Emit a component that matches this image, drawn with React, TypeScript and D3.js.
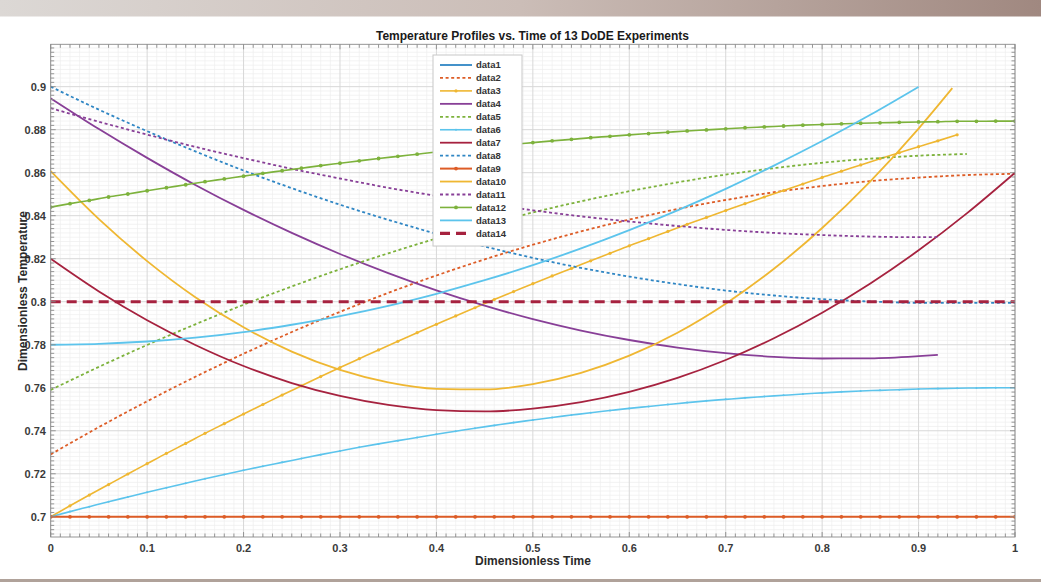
import React from 'react';
import * as d3 from 'd3';

const W = 1041;
const H = 582;

// ---- time grids ----
const time05 = [0, 0.05, 0.1, 0.15, 0.2, 0.25, 0.3, 0.35, 0.4, 0.45, 0.5, 0.55, 0.6, 0.65, 0.7, 0.75, 0.8, 0.85, 0.9, 0.95, 1];
const time02 = d3.range(51).map((i) => i / 50);
const timeTo092 = [0, 0.05, 0.1, 0.15, 0.2, 0.25, 0.3, 0.35, 0.4, 0.45, 0.5, 0.55, 0.6, 0.65, 0.7, 0.75, 0.8, 0.85, 0.9, 0.92];
const timeTo0935 = [0, 0.05, 0.1, 0.15, 0.2, 0.25, 0.3, 0.35, 0.4, 0.45, 0.5, 0.55, 0.6, 0.65, 0.7, 0.75, 0.8, 0.85, 0.9, 0.935];
const timeTo09 = [0, 0.05, 0.1, 0.15, 0.2, 0.25, 0.3, 0.35, 0.4, 0.45, 0.5, 0.55, 0.6, 0.65, 0.7, 0.75, 0.8, 0.85, 0.9];
const timeFull = [0, 1];

// ---- series values ----
const data1: number[] = [];
const data2 = [0.729, 0.7417, 0.7537, 0.7651, 0.7758, 0.7859, 0.7953, 0.8041, 0.8122, 0.8197, 0.8265, 0.8327, 0.8382, 0.8431, 0.8473, 0.8509, 0.8538, 0.8561, 0.8577, 0.8589, 0.8595];
const data3 = [0.7, 0.7051, 0.7101, 0.715, 0.7199, 0.7247, 0.7295, 0.7341, 0.7388, 0.7433, 0.7478, 0.7522, 0.7566, 0.7609, 0.7652, 0.7694, 0.7735, 0.7776, 0.7816, 0.7856, 0.7895, 0.7934, 0.7972, 0.801, 0.8047, 0.8084, 0.812, 0.8155, 0.819, 0.8225, 0.826, 0.8293, 0.8327, 0.836, 0.8392, 0.8424, 0.8456, 0.8487, 0.8517, 0.8547, 0.8578, 0.8607, 0.8636, 0.8665, 0.8693, 0.8721, 0.8748, 0.8776];
const data4 = [0.8946, 0.8803, 0.8669, 0.8543, 0.8427, 0.832, 0.8222, 0.8133, 0.8053, 0.7982, 0.7919, 0.7866, 0.7822, 0.7787, 0.7761, 0.7744, 0.7736, 0.7737, 0.7747, 0.7753];
const data5 = [0.759, 0.7697, 0.7799, 0.7895, 0.7986, 0.8071, 0.8151, 0.8225, 0.8294, 0.8357, 0.8415, 0.8467, 0.8514, 0.8555, 0.8591, 0.8621, 0.8646, 0.8665, 0.8679, 0.8687];
const data6 = [0.7, 0.7024, 0.7047, 0.707, 0.7092, 0.7114, 0.7135, 0.7156, 0.7177, 0.7197, 0.7216, 0.7235, 0.7253, 0.7271, 0.7289, 0.7306, 0.7323, 0.7339, 0.7354, 0.7369, 0.7384, 0.7398, 0.7412, 0.7425, 0.7438, 0.745, 0.7462, 0.7473, 0.7484, 0.7494, 0.7504, 0.7513, 0.7522, 0.7531, 0.7539, 0.7546, 0.7553, 0.7559, 0.7565, 0.7571, 0.7576, 0.7581, 0.7585, 0.7588, 0.7591, 0.7594, 0.7596, 0.7598, 0.7599, 0.76, 0.76];
const data7 = [0.82, 0.8048, 0.7914, 0.7799, 0.7701, 0.7622, 0.7562, 0.752, 0.7496, 0.749, 0.7503, 0.7533, 0.7581, 0.7646, 0.7729, 0.783, 0.7949, 0.8085, 0.8239, 0.8411, 0.86];
const data8 = [0.9, 0.8893, 0.8793, 0.8699, 0.861, 0.8528, 0.8451, 0.8381, 0.8316, 0.8257, 0.8204, 0.8157, 0.8117, 0.8082, 0.8052, 0.8029, 0.8012, 0.8001, 0.7995, 0.7995, 0.7995];
const data9 = [0.7, 0.7, 0.7, 0.7, 0.7, 0.7, 0.7, 0.7, 0.7, 0.7, 0.7, 0.7, 0.7, 0.7, 0.7, 0.7, 0.7, 0.7, 0.7, 0.7, 0.7, 0.7, 0.7, 0.7, 0.7, 0.7, 0.7, 0.7, 0.7, 0.7, 0.7, 0.7, 0.7, 0.7, 0.7, 0.7, 0.7, 0.7, 0.7, 0.7, 0.7, 0.7, 0.7, 0.7, 0.7, 0.7, 0.7, 0.7, 0.7, 0.7, 0.7];
const data10 = [0.8607, 0.8384, 0.8189, 0.8021, 0.7881, 0.7768, 0.7683, 0.7625, 0.7595, 0.7592, 0.7617, 0.7669, 0.7749, 0.7856, 0.7991, 0.8153, 0.8343, 0.856, 0.8805, 0.8993];
const data11 = [0.89, 0.8837, 0.8777, 0.872, 0.8668, 0.8618, 0.8573, 0.853, 0.8492, 0.8457, 0.8425, 0.8397, 0.8373, 0.8352, 0.8334, 0.832, 0.831, 0.8303, 0.83, 0.83];
const data12 = [0.844, 0.8456, 0.8471, 0.8487, 0.8501, 0.8516, 0.853, 0.8544, 0.8558, 0.8571, 0.8584, 0.8597, 0.8609, 0.8621, 0.8633, 0.8644, 0.8655, 0.8666, 0.8676, 0.8686, 0.8696, 0.8705, 0.8715, 0.8723, 0.8732, 0.874, 0.8748, 0.8755, 0.8763, 0.8769, 0.8776, 0.8782, 0.8788, 0.8794, 0.8799, 0.8804, 0.8809, 0.8813, 0.8817, 0.8821, 0.8824, 0.8827, 0.883, 0.8832, 0.8834, 0.8836, 0.8837, 0.8839, 0.8839, 0.884, 0.884];
const data13 = [0.78, 0.7804, 0.7815, 0.7833, 0.7859, 0.7893, 0.7933, 0.7981, 0.8037, 0.81, 0.817, 0.8248, 0.8333, 0.8425, 0.8525, 0.8633, 0.8747, 0.8869, 0.8999];
const data14 = [0.8, 0.8];

const legendLabels = ['data1', 'data2', 'data3', 'data4', 'data5', 'data6', 'data7', 'data8', 'data9', 'data10', 'data11', 'data12', 'data13', 'data14'];
const xTickLabels = ['0', '0.1', '0.2', '0.3', '0.4', '0.5', '0.6', '0.7', '0.8', '0.9', '1'];
const yTickLabels = ['0.7', '0.72', '0.74', '0.76', '0.78', '0.8', '0.82', '0.84', '0.86', '0.88', '0.9'];

const TITLE = 'Temperature Profiles vs. Time of 13 DoDE Experiments';
const XLABEL = 'Dimensionless Time';
const YLABEL = 'Dimensionless Temperature';

// ---- styles ----
const BLUE = '#2f86c4';
const ORANGE = '#dd5c26';
const YELLOW = '#efb732';
const PURPLE = '#883f97';
const GREEN = '#7db23c';
const LBLUE = '#5cc4ec';
const DRED = '#a6223f';

type S = { t: number[]; v: number[]; color: string; dash?: string; width: number; marker?: number };
const series: S[] = [
  { t: [], v: data1, color: BLUE, width: 1.8 },
  { t: time05, v: data2, color: ORANGE, dash: '3 2.6', width: 1.8 },
  { t: time02, v: data3, color: YELLOW, width: 1.6, marker: 1.6 },
  { t: timeTo092, v: data4, color: PURPLE, width: 1.8 },
  { t: time05, v: data5, color: GREEN, dash: '3 2.6', width: 1.8 },
  { t: time02, v: data6, color: LBLUE, width: 1.6, marker: 1.0 },
  { t: time05, v: data7, color: DRED, width: 1.8 },
  { t: time05, v: data8, color: BLUE, dash: '3 2.6', width: 1.8 },
  { t: time02, v: data9, color: ORANGE, width: 2, marker: 1.9 },
  { t: timeTo0935, v: data10, color: YELLOW, width: 1.8 },
  { t: timeTo092, v: data11, color: PURPLE, dash: '3 2.6', width: 1.8 },
  { t: time02, v: data12, color: GREEN, width: 1.6, marker: 1.9 },
  { t: timeTo09, v: data13, color: LBLUE, width: 1.8 },
  { t: timeFull, v: data14, color: DRED, dash: '10 6', width: 3.2 },
];

const FONT = '"Liberation Sans", Arial, Helvetica, sans-serif';

export default function App() {
  const left = 50.7, right = 1015, top = 44.3, bottom = 537;
  const x = d3.scaleLinear().domain([0, 1]).range([left, right]);
  const y = d3.scaleLinear().domain([0.6906, 0.9197]).range([bottom, top]);

  const xMinor = d3.range(0, 101).map((i) => i / 100);
  const yMinor = d3.range(346, 460).map((i) => i * 0.002);
  const xMajor = xTickLabels.map((s) => +s);
  const yMajor = yTickLabels.map((s) => +s);

  const line = d3
    .line<[number, number]>()
    .x((d) => x(d[0]))
    .y((d) => y(d[1]))
    .curve(d3.curveMonotoneX);

  const legX = 433, legY = 55, legW = 89, legH = 191;
  const legStep = 12.95;

  return (
    <svg width={W} height={H} style={{ position: 'absolute', left: 0, top: 0, background: '#fff' }} fontFamily={FONT}>
      <defs>
        <linearGradient id="band" x1="0" x2="1" y1="0" y2="0">
          <stop offset="0" stopColor="#dcd8d5" />
          <stop offset="0.5" stopColor="#cbbdb7" />
          <stop offset="1" stopColor="#a08880" />
        </linearGradient>
        <clipPath id="plotclip">
          <rect x={left} y={top} width={right - left} height={bottom - top} />
        </clipPath>
      </defs>
      <rect x={0} y={0} width={W} height={H} fill="#fff" />
      <rect x={0} y={0} width={W} height={16.5} fill="url(#band)" />
      <rect x={0} y={579} width={W} height={3} fill="#b0a29a" />

      {/* minor grid */}
      <g stroke="#eeeeee" strokeWidth={0.7}>
        {xMinor.map((t, i) => (i % 10 !== 0 ? <line key={'xm' + i} x1={x(t)} x2={x(t)} y1={top} y2={bottom} /> : null))}
        {yMinor.map((v, i) => ((i + 346) % 10 !== 0 ? <line key={'ym' + i} x1={left} x2={right} y1={y(v)} y2={y(v)} /> : null))}
      </g>
      {/* major grid */}
      <g stroke="#d8d8d8" strokeWidth={1}>
        {xMajor.map((t, i) => (
          <line key={'xg' + i} x1={x(t)} x2={x(t)} y1={top} y2={bottom} />
        ))}
        {yMajor.map((v, i) => (
          <line key={'yg' + i} x1={left} x2={right} y1={y(v)} y2={y(v)} />
        ))}
      </g>

      {/* series */}
      <g clipPath="url(#plotclip)">
        {series.map((s, i) => {
          const pts = s.v.map((val, j) => [s.t[j], val] as [number, number]);
          if (pts.length === 0) return null;
          return (
            <g key={'s' + i}>
              <path d={line(pts) || ''} fill="none" stroke={s.color} strokeWidth={s.width} strokeDasharray={s.dash} strokeLinejoin="round" />
              {s.marker
                ? pts.map((p, j) => <circle key={j} cx={x(p[0])} cy={y(p[1])} r={s.marker} fill={s.color} />)
                : null}
            </g>
          );
        })}
      </g>

      {/* axes box and ticks */}
      <g stroke="#8a8a8a" strokeWidth={0.9} fill="none">
        <rect x={left} y={top} width={right - left} height={bottom - top} />
        {xMinor.map((t, i) => {
          const len = i % 10 === 0 ? 5 : 3.5;
          return (
            <g key={'xt' + i}>
              <line x1={x(t)} x2={x(t)} y1={bottom} y2={bottom - len} />
              <line x1={x(t)} x2={x(t)} y1={top} y2={top + len} />
            </g>
          );
        })}
        {yMinor.map((v, i) => {
          const len = (i + 346) % 10 === 0 ? 5 : 3.5;
          return (
            <g key={'yt' + i}>
              <line x1={left} x2={left + len} y1={y(v)} y2={y(v)} />
              <line x1={right} x2={right - len} y1={y(v)} y2={y(v)} />
            </g>
          );
        })}
      </g>

      {/* tick labels */}
      <g fontSize={11} fontWeight="bold" fill="#3a3a3a">
        {xTickLabels.map((s, i) => (
          <text key={'xl' + i} x={x(+s)} y={552} textAnchor="middle">
            {s}
          </text>
        ))}
        {yTickLabels.map((s, i) => (
          <text key={'yl' + i} x={46} y={y(+s) + 4} textAnchor="end">
            {s}
          </text>
        ))}
      </g>

      {/* labels */}
      <text x={533} y={565} textAnchor="middle" fontSize={12} fontWeight="bold" fill="#2a2a2a">
        {XLABEL}
      </text>
      <text transform="translate(27,291) rotate(-90)" textAnchor="middle" fontSize={12} fontWeight="bold" fill="#2a2a2a">
        {YLABEL}
      </text>
      <text x={532.5} y={39.5} textAnchor="middle" fontSize={12} fontWeight="bold" fill="#1a1a1a">
        {TITLE}
      </text>

      {/* legend */}
      <rect x={legX} y={legY} width={legW} height={legH} fill="#fff" stroke="#c8c8c8" strokeWidth={1} />
      {series.map((s, i) => {
        const cy = legY + 10 + i * legStep;
        return (
          <g key={'lg' + i}>
            <line x1={440} x2={472} y1={cy} y2={cy} stroke={s.color} strokeWidth={s.width} strokeDasharray={s.dash} />
            {s.marker ? <circle cx={456} cy={cy} r={s.marker} fill={s.color} /> : null}
            <text x={476} y={cy + 3.4} fontSize={9.5} fontWeight="bold" fill="#333">
              {legendLabels[i]}
            </text>
          </g>
        );
      })}
    </svg>
  );
}
